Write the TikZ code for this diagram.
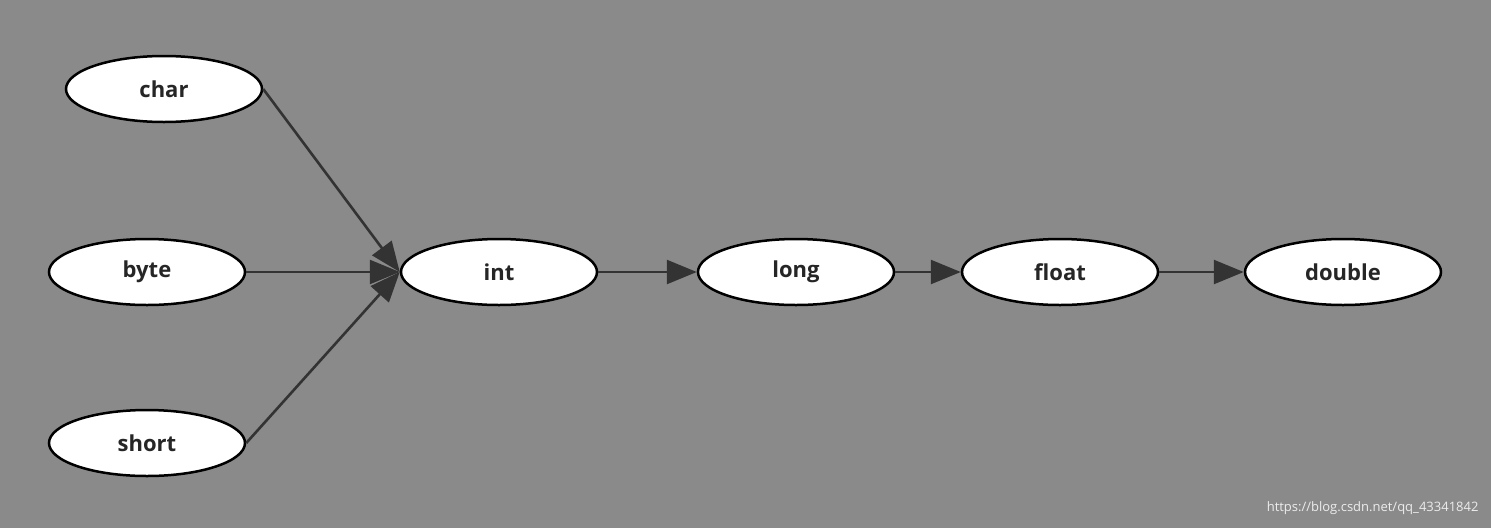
\documentclass[tikz,border=0pt]{standalone}
\usepackage{fontspec}
\setmainfont{Open Sans}
\usetikzlibrary{shapes.geometric,arrows.meta}
\definecolor{bggray}{HTML}{8A8A8A}
\definecolor{arrowgray}{HTML}{333333}
\tikzset{
  typenode/.style={ellipse,draw=black,fill=white,line width=2.5pt,
    minimum width=196pt,minimum height=66pt,inner sep=0pt,
    font=\fontsize{22}{26}\selectfont\bfseries,text=black!85},
  conv/.style={draw=arrowgray,line width=2.6pt,
    -{Triangle[length=30pt,width=24pt]}}
}
\begin{document}
\begin{tikzpicture}[x=1pt,y=-1pt]
    \fill[bggray] (0,0) rectangle (1491,528);
    \useasboundingbox (0,0) rectangle (1491,528);
    \node[typenode] (char) at (164,89) {char};
    \node[typenode] (byte) at (147,272) {byte};
    \node[typenode] (short) at (147,443) {short};
    \node[typenode] (int) at (499,272) {int};
    \node[typenode] (long) at (796,272) {long};
    \node[typenode] (float) at (1060,272) {float};
    \node[typenode] (double) at (1343,272) {double};
    \draw[conv] (char.east) -- (int.west);
    \draw[conv] (byte) -- (int);
    \draw[conv] (short.east) -- (int.west);
    \draw[conv] (int) -- (long);
    \draw[conv] (long) -- (float);
    \draw[conv] (float) -- (double);
    \node[text=white!85!gray,font=\fontsize{13}{15}\selectfont,anchor=east] (mark) at (1482,508) {https://blog.csdn.net/qq\_43341842};
\end{tikzpicture}
\end{document}
